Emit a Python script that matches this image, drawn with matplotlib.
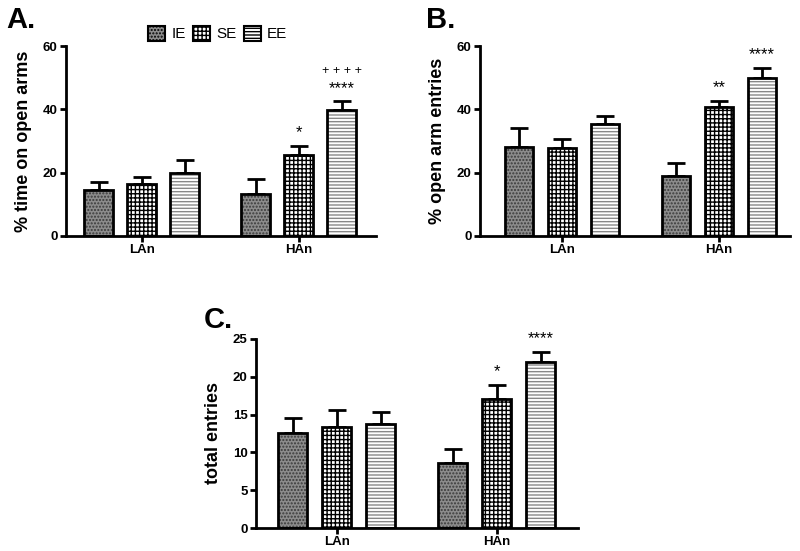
import matplotlib
matplotlib.use("Agg")
import matplotlib.pyplot as plt
import numpy as np
from matplotlib.patches import Patch

plt.rcParams['font.family'] = ['Liberation Sans', 'DejaVu Sans']
plt.rcParams['hatch.linewidth'] = 1.0

groups = ['LAn', 'HAn']
series = ['IE', 'SE', 'EE']

time_open = {'IE': [14.5, 13.3], 'SE': [16.5, 25.5], 'EE': [19.8, 39.7]}
time_open_err = {'IE': [2.6, 4.7], 'SE': [2.0, 3.0], 'EE': [4.2, 2.8]}
time_open_marks = {('SE', 1): '*', ('EE', 1): '****'}

open_entries = {'IE': [28.0, 18.8], 'SE': [27.8, 40.7], 'EE': [35.5, 49.8]}
open_entries_err = {'IE': [6.0, 4.2], 'SE': [2.9, 2.0], 'EE': [2.5, 3.4]}
open_entries_marks = {('SE', 1): '**', ('EE', 1): '****'}

total = {'IE': [12.5, 8.6], 'SE': [13.4, 17.0], 'EE': [13.7, 22.0]}
total_err = {'IE': [2.1, 1.9], 'SE': [2.2, 1.9], 'EE': [1.6, 1.3]}
total_marks = {('SE', 1): '*', ('EE', 1): '****'}

styles = {
    'IE': dict(facecolor='#8c8c8c', hatch='.....', hcolor='#3a3a3a'),
    'SE': dict(facecolor='white', hatch='++++', hcolor='black'),
    'EE': dict(facecolor='white', hatch='-----', hcolor='#888888'),
}

group_gap = 3.65
width = 0.66


def draw_panel(ax, vals, errs, marks, ymax, yticks, ylabel, xlim):
    for i, s in enumerate(series):
        x = np.array([i, i + group_gap])
        st = styles[s]
        ax.bar(x, vals[s], width, color=st['facecolor'], hatch=st['hatch'],
               edgecolor=st['hcolor'], linewidth=0, zorder=2)
        ax.bar(x, vals[s], width, fill=False, edgecolor='black', linewidth=2, zorder=3)
        ax.errorbar(x, vals[s], yerr=[np.zeros(2), errs[s]], fmt='none',
                    ecolor='black', elinewidth=2, capsize=6.5, capthick=2, zorder=1)
        for j in range(2):
            if (s, j) in marks:
                ax.text(x[j], vals[s][j] + errs[s][j] + ymax * 0.03, marks[(s, j)],
                        ha='center', va='bottom', fontsize=12)
    ax.set_ylim(0, ymax)
    ax.set_xlim(*xlim)
    ax.set_yticks(yticks)
    ax.set_xticks([1, 1 + group_gap])
    ax.set_xticklabels(groups)
    for sp in ['top', 'right']:
        ax.spines[sp].set_visible(False)
    for sp in ['left', 'bottom']:
        ax.spines[sp].set_linewidth(2)
    ax.tick_params(axis='both', direction='out', width=2, length=4, labelsize=9.5, pad=2)
    for lab in ax.get_xticklabels() + ax.get_yticklabels():
        lab.set_fontweight('bold')
    ax.set_ylabel(ylabel, fontsize=13, fontweight='bold', labelpad=8)


fig = plt.figure(figsize=(8, 5.51), dpi=100)
axA = fig.add_axes([0.0825, 0.5717, 0.3875, 0.3448])
axB = fig.add_axes([0.60, 0.5717, 0.3875, 0.3448])
axC = fig.add_axes([0.32, 0.0417, 0.4025, 0.3431])

draw_panel(axA, time_open, time_open_err, time_open_marks, 60, [0, 20, 40, 60],
           '% time on open arms', (-0.76, 6.45))
draw_panel(axB, open_entries, open_entries_err, open_entries_marks, 60, [0, 20, 40, 60],
           '% open arm entries', (-0.9, 6.3))
draw_panel(axC, total, total_err, total_marks, 25, [0, 5, 10, 15, 20, 25],
           'total entries', (-0.84, 6.5))

# panel letters
fig.text(6 / 800, 1 - 6 / 551, 'A.', fontsize=21, fontweight='bold', ha='left', va='top')
fig.text(426 / 800, 1 - 6 / 551, 'B.', fontsize=21, fontweight='bold', ha='left', va='top')
fig.text(204 / 800, 1 - 306 / 551, 'C.', fontsize=21, fontweight='bold', ha='left', va='top')

# extra marks above the starred EE bar in panel A
axA.text(2 + group_gap, time_open['EE'][1] + time_open_err['EE'][1] + 7.8, '+ + + +',
         ha='center', va='bottom', fontsize=9)

# legend in panel A
handles = [Patch(facecolor=styles[s]['facecolor'], hatch=styles[s]['hatch'],
                 edgecolor='black', linewidth=1.5) for s in series]
axA.legend(handles, series, loc='center', bbox_to_anchor=(0.49, 1.065), ncol=3,
           frameon=False, fontsize=11, handlelength=1.1, handleheight=1.1,
           handletextpad=0.4, columnspacing=0.5)

fig.savefig('out.png', dpi=100)
